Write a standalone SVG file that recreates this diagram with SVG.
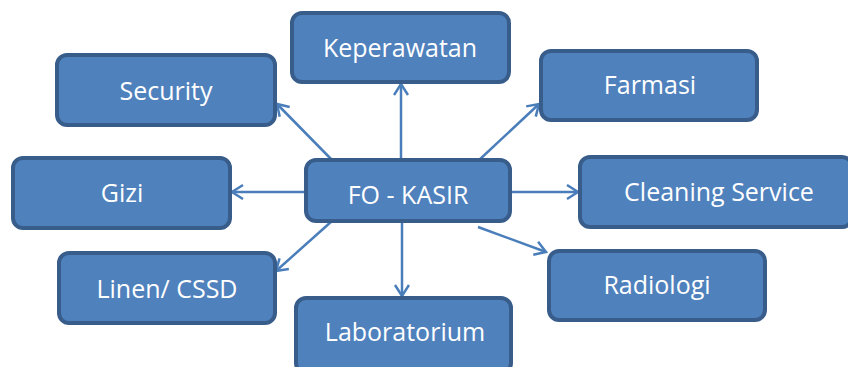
<svg xmlns="http://www.w3.org/2000/svg" width="848" height="367" viewBox="0 0 848 367">
<defs>
<style>
.box{fill:#4f81bd;stroke:#385d8a;stroke-width:4}
.lbl{fill:#ffffff;font-family:"Open Sans","Liberation Sans",sans-serif;font-size:25px;text-anchor:middle}
.con{stroke:#4a7ebb;stroke-width:2.5;fill:none;marker-end:url(#arr)}
</style>
<marker id="arr" markerUnits="userSpaceOnUse" markerWidth="20" markerHeight="20" refX="13" refY="8" orient="auto">
<path d="M2,1 L13,8 L2,15" fill="none" stroke="#4a7ebb" stroke-width="2.5"/>
</marker>
</defs>
<rect width="848" height="367" fill="#ffffff"/>
<g id="connectors">
<line class="con" x1="401" y1="159" x2="401" y2="84"/>
<line class="con" x1="402" y1="223" x2="402" y2="296"/>
<line class="con" x1="306" y1="192" x2="232" y2="192"/>
<line class="con" x1="512" y1="192" x2="578" y2="192"/>
<line class="con" x1="332" y1="160" x2="277" y2="104"/>
<line class="con" x1="478" y1="161" x2="539" y2="104"/>
<line class="con" x1="332" y1="221" x2="276" y2="271"/>
<line class="con" x1="478" y1="227" x2="546" y2="252"/>
</g>
<g id="keperawatan"><rect class="box" x="292" y="13" width="217" height="69" rx="10"/><text class="lbl" x="400" y="57">Keperawatan</text></g>
<g id="security"><rect class="box" x="57" y="55" width="218" height="70" rx="10"/><text class="lbl" x="166" y="100">Security</text></g>
<g id="farmasi"><rect class="box" x="541" y="51" width="216" height="69" rx="10"/><text class="lbl" x="650" y="94">Farmasi</text></g>
<g id="gizi"><rect class="box" x="13" y="158" width="217" height="70" rx="10"/><text class="lbl" x="122" y="202">Gizi</text></g>
<g id="fo-kasir"><rect class="box" x="306" y="160" width="204" height="61" rx="10"/><text class="lbl" x="408" y="204">FO - KASIR</text></g>
<g id="cleaning-service"><rect class="box" x="580" y="157" width="272" height="70" rx="10"/><text class="lbl" x="719" y="201">Cleaning Service</text></g>
<g id="linen-cssd"><rect class="box" x="59" y="253" width="216" height="70" rx="10"/><text class="lbl" x="167" y="298">Linen/ CSSD</text></g>
<g id="radiologi"><rect class="box" x="549" y="251" width="216" height="69" rx="10"/><text class="lbl" x="657" y="294">Radiologi</text></g>
<g id="laboratorium"><rect class="box" x="296" y="298" width="215" height="75" rx="10"/><text class="lbl" x="405" y="341">Laboratorium</text></g>
</svg>
